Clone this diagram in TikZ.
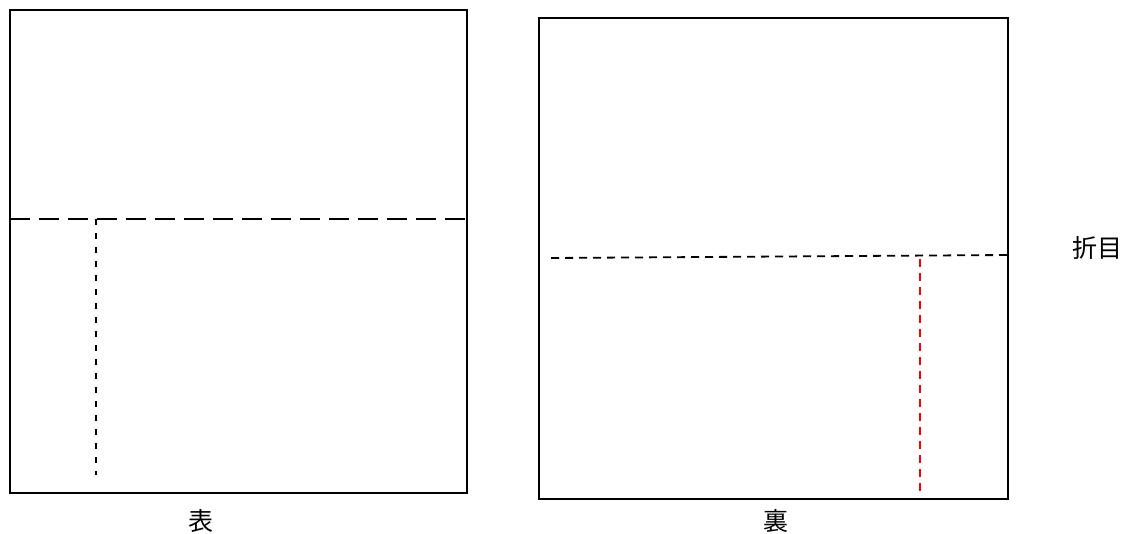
\documentclass[tikz,border=0pt]{standalone}
\usepackage{fontspec}
\newfontfamily\jpfont{Noto Sans CJK JP}
\begin{document}
\begin{tikzpicture}[x=1pt,y=-1pt,line width=1.8pt]
	  \useasboundingbox (0,0) rectangle (1131,533);
	  \tikzset{lbl/.style={font=\jpfont\fontsize{25}{28}\selectfont,inner sep=0pt}}

	  \coordinate (f1) at (10,10);
	  \coordinate (f2) at (467,493);
	  \coordinate (b1) at (539,18);
	  \coordinate (b2) at (1008,499);
	  \draw (f1) rectangle (f2);
	  \draw (b1) rectangle (b2);

	  \coordinate (fl) at (10,219);
	  \coordinate (fr) at (467,219);
	  \coordinate (ft) at (96,219);
	  \coordinate (fb) at (96,475);
	  \draw[dash pattern=on 20pt off 9pt] (fl) -- (fr);
	  \draw[dash pattern=on 6pt off 8pt] (ft) -- (fb);

	  \coordinate (bl) at (551,258);
	  \coordinate (br) at (1008,255);
	  \coordinate (bt) at (920,259);
	  \coordinate (bb) at (920,496);
	  \draw[dash pattern=on 8pt off 6pt] (bl) -- (br);
	  \draw[red,dash pattern=on 8pt off 6pt] (bt) -- (bb);

	  \node[lbl] (omote) at (201,521) {表};
	  \node[lbl] (ura) at (776,521) {裏};
	  \node[lbl] (orime) at (1097,248) {折目};
\end{tikzpicture}
\end{document}
